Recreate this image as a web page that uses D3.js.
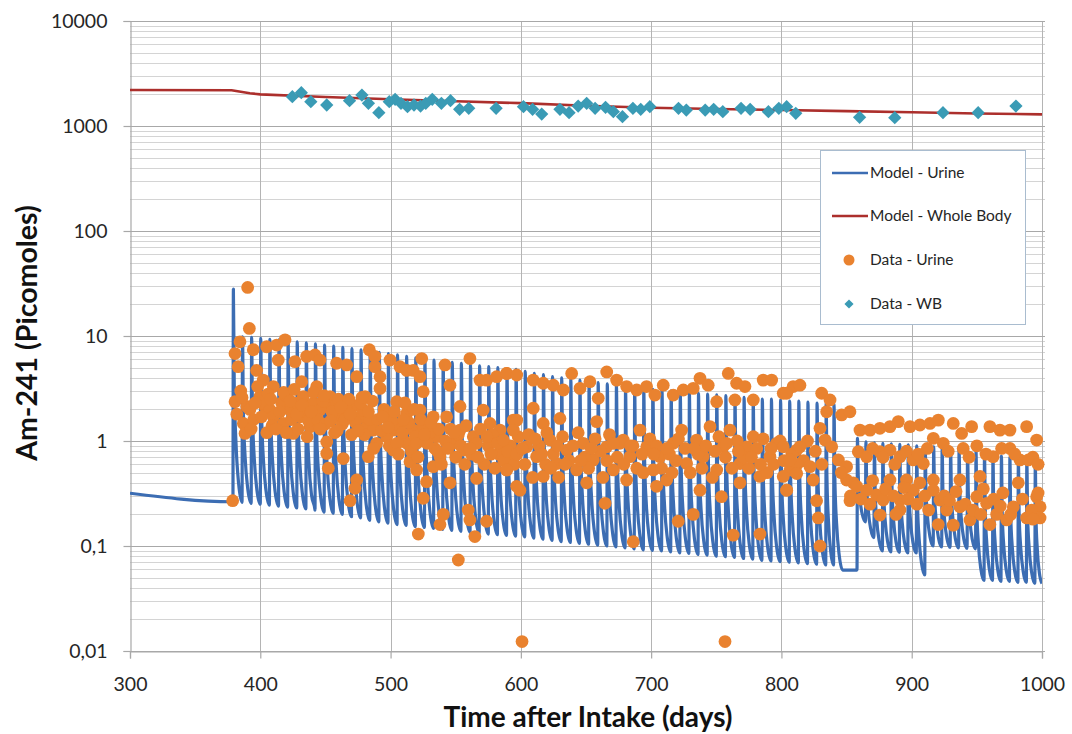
<!DOCTYPE html>
<html>
<head>
<meta charset="utf-8">
<script src="https://cdn.jsdelivr.net/npm/d3@7"></script>
<style>
  html, body { margin: 0; padding: 0; background: #ffffff; }
  svg { display: block; font-family: Lato, "Open Sans", sans-serif; }
</style>
</head>
<body>
<svg id="chart" width="1072" height="734"></svg>
<script>
// ---------------- DATA ----------------
const xTickValues = [300, 400, 500, 600, 700, 800, 900, 1000];
const yTickValues = [0.01, 0.1, 1, 10, 100, 1000, 10000];
const yTickLabels = ["0,01", "0,1", "1", "10", "100", "1000", "10000"];

const xTitle = "Time after Intake (days)";
const yTitle = "Am-241 (Picomoles)";
const legendLabels = ["Model - Urine", "Model - Whole Body", "Data - Urine", "Data - WB"];

// Model - Whole Body
const wbModelDays = [300, 378, 392, 400, 450, 500, 550, 600, 650, 700, 750, 800, 850, 900, 950, 1000];
const wbModelValues = [2200, 2190, 2050, 2000, 1890, 1800, 1720, 1650, 1560, 1490, 1450, 1420, 1385, 1350, 1315, 1290];

// Data - WB
const wbDataDays = [424.6, 431.5, 438.8, 451, 468.5, 478, 483, 491, 499, 503.5, 508, 513, 518, 523, 527, 532, 539, 546, 553, 560,
  581, 602, 609, 616, 630, 637, 644, 650.5, 657, 665, 671, 678, 686, 692, 699, 721, 727, 741.5, 748, 755,
  769, 776, 790, 798, 804, 811, 860, 887, 924, 951, 980];
const wbDataValues = [1900, 2075, 1705, 1585, 1742, 1973, 1645, 1340, 1705, 1796, 1645, 1527, 1585, 1550, 1645, 1796, 1645, 1742, 1442, 1473,
  1473, 1527, 1442, 1300, 1442, 1340, 1550, 1645, 1473, 1506, 1370, 1227, 1473, 1442, 1527, 1473, 1420, 1420, 1442, 1370,
  1473, 1442, 1370, 1473, 1527, 1322, 1210, 1200, 1340, 1340, 1550];

// Model - Urine : baseline before first treatment, then per-cycle start day, peak and trough
const urineBaselineDays = [300, 378.6];
const urineBaselineValues = [0.318, 0.264];
const urineCycleDays = [379, 386, 393, 400, 407, 414, 421, 428, 435, 442, 449, 456, 463, 470, 477, 484, 491, 498, 505, 512,
  519, 526, 533, 540, 547, 554, 561, 568, 575, 582, 589, 596, 603, 610, 617, 624, 631, 638, 645, 652,
  659, 666, 673, 680, 687, 694, 701, 708, 715, 722, 729, 736, 743, 750, 757, 764, 771, 778, 785, 792,
  799, 806, 813, 820, 827, 834, 840,
  858, 864.5, 871, 877.5, 884, 890.5, 897, 903.5, 910, 916.5, 923, 929.5, 936, 942.5, 949, 955.5, 962, 968.5, 975, 981.5, 988, 994.5];
const urineCyclePeaks = [28, 9.8, 9.7, 9.5, 9.3, 9.2, 9.0, 8.8, 8.6, 8.4, 8.2, 8.0, 7.8, 7.6, 7.4, 7.2, 7.0, 6.8, 6.6, 6.4,
  6.2, 6.1, 5.9, 5.8, 5.6, 5.5, 5.3, 5.2, 5.1, 5.0, 4.9, 4.8, 4.6, 4.4, 4.3, 4.1, 4.0, 3.9, 3.8, 3.7,
  3.6, 3.5, 3.4, 3.3, 3.2, 3.15, 3.1, 3.05, 3.0, 2.95, 2.9, 2.85, 2.8, 2.75, 2.7, 2.65, 2.6, 2.55, 2.5, 2.5,
  2.45, 2.4, 2.4, 2.35, 2.3, 2.3, 2.25,
  1.06, 0.98, 0.96, 0.95, 0.94, 0.93, 0.92, 0.9, 0.9, 0.88, 0.87, 0.86, 0.85, 0.84, 0.82, 0.78, 0.75, 0.72, 0.7, 0.68, 0.66, 0.64];
const urineCycleTroughs = [0.26, 0.255, 0.25, 0.245, 0.24, 0.235, 0.23, 0.225, 0.22, 0.21, 0.205, 0.2, 0.19, 0.185, 0.175, 0.17, 0.165, 0.16, 0.157, 0.153,
  0.15, 0.147, 0.144, 0.141, 0.138, 0.135, 0.132, 0.13, 0.128, 0.126, 0.124, 0.122, 0.119, 0.116, 0.113, 0.11, 0.108, 0.106, 0.104, 0.102,
  0.1, 0.098, 0.096, 0.094, 0.092, 0.091, 0.09, 0.088, 0.086, 0.085, 0.083, 0.082, 0.08, 0.079, 0.078, 0.076, 0.075, 0.073, 0.072, 0.071,
  0.07, 0.069, 0.068, 0.067, 0.066, 0.066, 0.059,
  0.17, 0.12, 0.09, 0.088, 0.087, 0.086, 0.086, 0.053, 0.1, 0.098, 0.097, 0.096, 0.095, 0.094, 0.047, 0.047, 0.046, 0.046, 0.045, 0.045, 0.044, 0.044];

// Data - Urine
const urineDataDays = [
  378.8, 390.3, 391.6, 384.4, 380.6, 383, 380.6, 389.6, 387, 388.3, 394.6, 397.2, 402.3, 399.8, 403.6, 404.9, 412.6, 419, 413.8, 410,
  416.4, 417.7, 425.3, 426.6, 431.8, 435.6, 442, 445.8, 443.3, 436.8, 438.2, 430.5, 451, 451, 451, 452.2, 458.6, 466.3, 474, 463.7,
  457.3, 471.4, 474, 472.7, 468.9, 480.4, 481.7, 482.9, 483.7, 488, 488, 491.9, 491.9, 497, 499.6, 504.7, 502.1, 507.2, 512.4, 517.4,
  523.9, 522.6, 525.1, 512.4, 522.6, 517.4, 509.7, 514.9, 520, 527.6, 525.1, 521.3, 532.8, 537.9, 541.8, 545.6, 537.9, 540.5, 545.6, 552,
  559.6, 560.9, 564.7, 573.7, 566, 553.3, 560.9, 553.3, 568.6, 573.7, 581.4, 589, 571.1, 576.3, 586.5, 591.7, 594.2, 596.8,
  402.3, 407.5, 410, 420.3, 422.8, 427.9, 433, 440.7, 445.8, 453.5, 458.6, 461.2, 466.3, 476.5, 479, 486.7, 489.3, 497, 502.1, 507.2,
  512.4, 525.1, 532.8, 535.4, 543, 548.1, 555.8, 563.5, 584, 589,
  385, 392, 395, 398, 406, 409, 415, 418, 424, 426, 429, 434, 437, 441, 444, 448, 450, 455, 457, 460,
  463, 468, 470, 473, 477, 480, 484, 486, 490, 493, 495, 499, 501, 505, 509, 511, 514, 516, 519, 521,
  523, 528, 530, 534, 537, 539, 542, 546, 550, 552, 557, 558, 562, 566, 569, 572, 575, 578, 580, 583,
  587, 592, 595, 598,
  382, 386, 393, 396, 401, 405, 408, 412, 420, 423, 428, 432, 436, 439, 446, 449, 454, 459, 462, 465,
  469, 475, 478, 483, 487, 494, 498, 503, 506, 510, 518, 520, 526, 531, 536, 544, 549, 554, 561, 567,
  574, 577, 582, 590, 597,
  589.1, 596.8, 609.5, 617.2, 624.9, 632.6, 639, 645.4, 653, 659.4, 665.9, 673.5, 681.2, 688.9, 696.5, 702.9, 709.3, 717, 724.7, 732.3,
  737.5, 743.8, 750.3, 759.2, 765.6, 772, 764.3, 778.4, 786, 792.5, 801.4, 809, 609.5, 596.8, 617.2, 630, 658.2, 599.3, 664.6, 686.3,
  720.8, 732.3, 754, 763, 783.5, 804,
  586.5, 594.2, 604.5, 612.1, 622.4, 627.5, 635.2, 642.8, 647.9, 655.6, 665.9, 671, 678.6, 683.8, 691.4, 696.6, 701.6, 706.8, 711.9, 717,
  723.4, 727.2, 734.9, 740, 745.2, 750.3, 755.3, 760.5, 768.2, 773.3, 778.4, 783.5, 791.2, 796.3, 806.6, 811.7, 589.1, 617.2, 650.5, 681.2,
  704.2, 737.5, 768.2, 801.4, 600.9, 756.7,
  603, 606, 609, 614, 619, 620, 625, 629, 632, 637, 640, 644, 649, 652, 657, 661, 663, 668, 674, 676,
  686, 689, 693, 699, 704, 708, 714, 719, 721, 726, 730, 736, 742, 747, 752, 757, 762, 766, 771, 775,
  781, 786, 789, 794, 799, 808, 817, 820, 826, 831,
  601, 611, 616, 623, 628, 634, 646, 654, 666, 671, 679, 684, 694, 702, 712, 716, 733, 739, 749, 758,
  767, 777, 784, 792, 802, 812,
  804, 814.2, 830.9, 837.3, 834.7, 846.2, 852.6, 829.6, 833.5, 838.6, 843.7, 850, 855.1, 852.6, 827, 828.3, 829.6, 860.3, 868, 875.6,
  883.3, 889.7, 898.7, 906.3, 914, 920.4, 931.9, 938.3, 946, 960, 967.7, 975.4, 988.2, 995.9, 975.4, 983.1, 989.5, 981.8, 952.4, 924.2,
  916.6, 939.5, 962.5, 859, 865.4, 875.6, 883.3, 891, 901.2, 908.9, 850, 857.7, 865.4, 873, 878.1, 875.6, 891, 891, 901.2, 906.3,
  916.6, 916.6, 921.7, 920.4, 931.9, 926.8, 937, 944.7, 949.9, 957.5, 965.2, 972.9, 978, 988.2, 995.9, 998.5, 998.5, 997, 960, 937,
  896, 883.3, 801.4, 806.6, 811.7, 804, 814.2, 821.9, 824.4,
  846, 853, 861, 868, 870, 880, 886, 888, 894, 897, 904, 910, 913, 925, 929, 934, 941, 947, 953, 955,
  963, 968, 970, 976, 985, 992, 993, 870, 878, 887, 896, 905, 912, 928, 944, 950, 957, 969, 979, 993, 997];
const urineDataValues = [
  0.27, 29, 11.8, 8.8, 6.8, 5.1, 2.37, 2.13, 1.47, 1.18, 7.4, 4.7, 3.8, 2.65, 2.13, 7.9, 8.2, 9.2, 5.9, 3.3,
  2.3, 1.47, 1.18, 5.7, 3.67, 6.4, 6.6, 5.9, 3.3, 2.13, 1.37, 1.7, 2.13, 0.98, 0.76, 0.55, 5.5, 5.3, 4.1, 0.68,
  1.83, 2.13, 0.425, 0.355, 0.27, 2.65, 1.37, 0.71, 7.4, 6.4, 5.1, 4.1, 3.17, 1.7, 5.9, 2.37, 1.27, 5.1, 4.7, 4.7,
  6.1, 4.1, 2.95, 1.83, 1.97, 1.27, 1.02, 0.635, 0.53, 0.41, 0.285, 0.13, 0.57, 0.71, 5.3, 3.4, 0.16, 0.2, 0.4, 0.0736,
  0.22, 0.177, 0.123, 0.172, 0.44, 2.13, 6.1, 1.27, 3.8, 3.8, 4.1, 4.4, 1.97, 1.47, 0.95, 0.71, 1.58, 0.37,
  2.29, 1.97, 1.7, 2.65, 1.97, 2.29, 2.65, 2.29, 1.97, 2.65, 2.29, 1.7, 1.97, 1.7, 1.97, 1.27, 0.95, 1.1, 0.82, 1.37,
  0.95, 1.37, 1.7, 1.1, 1.7, 0.95, 0.82, 1.1, 1.27, 0.53,
  3.0, 2.0, 1.6, 3.3, 2.8, 1.4, 1.9, 2.9, 1.6, 3.1, 1.3, 1.9, 1.55, 2.9, 1.6, 2.4, 1.45, 1.9, 1.2, 2.5,
  1.45, 2.5, 1.15, 1.5, 2.3, 1.15, 1.6, 2.4, 1.6, 1.25, 2.0, 0.9, 1.55, 0.95, 1.2, 2.3, 1.5, 0.8, 1.1, 0.7,
  1.6, 0.95, 1.2, 0.85, 1.3, 0.6, 1.0, 1.3, 0.7, 1.15, 0.6, 1.4, 0.75, 0.95, 1.3, 0.6, 0.9, 1.15, 0.55, 0.75,
  0.65, 0.9, 0.6, 1.1,
  1.8, 2.6, 1.3, 2.3, 1.7, 1.2, 2.5, 1.3, 1.2, 2.4, 1.8, 2.2, 1.1, 1.9, 1.3, 2.7, 1.55, 1.25, 2.1, 1.6,
  1.8, 1.25, 2.6, 1.9, 0.85, 1.7, 1.35, 1.9, 0.75, 1.6, 2.0, 0.95, 1.15, 1.5, 0.8, 0.85, 1.2, 0.9, 0.85, 0.7,
  1.1, 0.75, 0.95, 0.8, 0.75,
  4.4, 4.25, 3.8, 3.55, 3.4, 3.06, 4.4, 3.17, 3.67, 2.55, 4.55, 3.8, 3.3, 3.06, 3.3, 2.74, 3.4, 2.74, 3.06, 3.17,
  3.95, 3.4, 2.37, 4.4, 3.55, 3.3, 2.46, 2.46, 3.8, 3.8, 2.85, 3.3, 2.05, 1.58, 1.47, 1.64, 1.53, 0.34, 0.255, 0.11,
  0.172, 0.2, 0.295, 0.127, 0.13, 0.34,
  1.02, 1.27, 0.88, 0.71, 1.02, 0.61, 0.82, 0.53, 0.95, 0.66, 0.88, 0.53, 1.02, 0.71, 1.27, 0.88, 0.53, 0.71, 0.425, 0.95,
  1.27, 0.61, 1.02, 0.71, 1.37, 0.53, 0.88, 1.27, 0.61, 0.88, 1.1, 0.46, 0.71, 0.95, 0.53, 0.82, 0.53, 0.46, 0.4, 0.425,
  0.37, 0.34, 0.4, 0.46, 0.0123, 0.0123,
  0.6, 1.15, 0.45, 0.9, 0.6, 1.2, 0.75, 0.45, 1.1, 0.65, 0.9, 1.2, 0.7, 0.55, 1.05, 0.8, 0.45, 1.15, 0.7, 0.95,
  0.9, 0.55, 0.75, 1.05, 0.9, 0.55, 0.75, 0.65, 1.05, 0.85, 0.5, 0.75, 0.9, 0.45, 1.1, 0.7, 0.55, 1.0, 0.7, 0.55,
  0.85, 1.05, 0.5, 0.6, 1.0, 0.75, 0.65, 1.0, 0.8, 0.6,
  0.85, 1.05, 0.75, 0.55, 0.9, 0.6, 0.65, 0.85, 0.65, 0.95, 0.6, 0.9, 0.5, 0.75, 0.85, 0.5, 0.85, 0.55, 0.8, 0.95,
  0.8, 0.7, 0.6, 0.85, 0.65, 0.6,
  2.85, 3.4, 2.85, 2.46, 1.9, 1.77, 1.9, 1.32, 1.02, 0.88, 0.66, 0.57, 0.4, 0.27, 0.27, 0.185, 0.1, 1.27, 1.27, 1.32,
  1.37, 1.53, 1.37, 1.42, 1.47, 1.58, 1.47, 1.18, 1.37, 1.37, 1.27, 1.27, 1.37, 1.02, 0.85, 0.66, 0.66, 0.4, 0.46, 0.95,
  1.06, 0.85, 0.71, 0.79, 0.71, 0.79, 0.82, 0.71, 0.66, 0.61, 0.425, 0.37, 0.34, 0.306, 0.274, 0.197, 0.274, 0.22, 0.34, 0.4,
  0.425, 0.34, 0.274, 0.16, 0.158, 0.22, 0.236, 0.177, 0.295, 0.255, 0.2, 0.177, 0.236, 0.185, 0.295, 0.236, 0.185, 0.32, 0.16, 0.425,
  0.425, 0.425, 0.88, 0.66, 0.49, 0.34, 0.88, 0.57, 0.425,
  0.5, 0.3, 0.28, 0.25, 0.42, 0.35, 0.3, 0.2, 0.36, 0.28, 0.25, 0.3, 0.22, 0.3, 0.27, 0.33, 0.25, 0.22, 0.2, 0.35,
  0.28, 0.24, 0.32, 0.2, 0.28, 0.22, 0.18, 0.85, 0.7, 0.6, 0.8, 0.75, 0.85, 0.8, 0.7, 0.9, 0.75, 0.85, 0.75, 0.7, 0.6];

// ---------------- LAYOUT / STYLE ----------------
const W = 1072, H = 734;
const plot = { left: 130, right: 1042, top: 21, bottom: 651 };
const colors = {
  urineModel: "#3c6db3",
  wbModel: "#ac2f2c",
  urineData: "#e9822f",
  wbData: "#3a9bb5",
  gridMajor: "#a8a8a8",
  gridMinor: "#d4d4d4",
  gridV: "#b4b4b4",
  text: "#262626"
};
// shape of one excretion tooth (fraction of cycle time, fraction of log drop from peak to trough)
const riseTime = 0.35;
const toothLength = 7;
const decayProfile = [[0.1, 0.45], [0.3, 0.72], [0.6, 0.91], [1.0, 1.0]];

const svg = d3.select("#chart");
svg.append("rect").attr("width", W).attr("height", H).attr("fill", "#fff");

const x = d3.scaleLinear().domain([300, 1000]).range([plot.left, plot.right]);
const y = d3.scaleLog().domain([0.01, 10000]).range([plot.bottom, plot.top]);

// gridlines
const grid = svg.append("g");
const minorTicks = y.ticks().filter(v => !yTickValues.some(t => Math.abs(Math.log10(v) - Math.log10(t)) < 1e-9));
grid.selectAll("line.minor").data(minorTicks).join("line")
  .attr("x1", plot.left).attr("x2", plot.right + 3)
  .attr("y1", d => Math.round(y(d)) + 0.5).attr("y2", d => Math.round(y(d)) + 0.5)
  .attr("stroke", colors.gridMinor).attr("stroke-width", 1);
grid.selectAll("line.vert").data(xTickValues.slice(1)).join("line")
  .attr("x1", d => Math.round(x(d)) + 0.5).attr("x2", d => Math.round(x(d)) + 0.5)
  .attr("y1", plot.top).attr("y2", plot.bottom)
  .attr("stroke", colors.gridV).attr("stroke-width", 1);
grid.selectAll("line.major").data(yTickValues).join("line")
  .attr("x1", plot.left).attr("x2", plot.right + 3)
  .attr("y1", d => Math.round(y(d)) + 0.5).attr("y2", d => Math.round(y(d)) + 0.5)
  .attr("stroke", colors.gridMajor).attr("stroke-width", 1.2);

// axes
const yAxis = svg.append("g").attr("transform", `translate(${plot.left + 0.5},0)`)
  .call(d3.axisLeft(y).tickValues(yTickValues).tickFormat((d, i) => yTickLabels[i]).tickSize(7).tickPadding(16));
const xAxis = svg.append("g").attr("transform", `translate(0,${plot.bottom + 0.5})`)
  .call(d3.axisBottom(x).tickValues(xTickValues).tickFormat(d3.format("d")).tickSize(7).tickPadding(19));
[yAxis, xAxis].forEach(a => {
  a.select(".domain").attr("stroke", colors.gridMajor).attr("stroke-width", 1.2);
  a.selectAll(".tick line").attr("stroke", colors.gridMajor).attr("stroke-width", 1.2);
  a.selectAll(".tick text").attr("fill", colors.text).style("font-size", "19.5px").style("font-family", "Lato, sans-serif");
});

// clip
svg.append("clipPath").attr("id", "clip").append("rect")
  .attr("x", plot.left).attr("y", plot.top).attr("width", plot.right - plot.left).attr("height", plot.bottom - plot.top);

// urine model curve
const urinePts = [];
urineBaselineDays.forEach((d, i) => urinePts.push([d, urineBaselineValues[i]]));
let cur = urineBaselineValues[urineBaselineValues.length - 1];
urineCycleDays.forEach((d, i) => {
  const P = urineCyclePeaks[i], T = urineCycleTroughs[i];
  const next = i + 1 < urineCycleDays.length ? urineCycleDays[i + 1] : 1000;
  const end = Math.min(d + toothLength, next);
  const span = end - d - riseTime;
  urinePts.push([d, cur]);
  urinePts.push([d + riseTime, P]);
  decayProfile.forEach(([ft, fl]) => {
    urinePts.push([d + riseTime + ft * span, Math.exp(Math.log(P) + fl * (Math.log(T) - Math.log(P)))]);
  });
  cur = T;
  if (end < next) urinePts.push([next, T]);
});
const lineGen = d3.line().x(d => x(d[0])).y(d => y(d[1])).curve(d3.curveMonotoneX);
svg.append("path").datum(urinePts)
  .attr("clip-path", "url(#clip)")
  .attr("d", lineGen).attr("fill", "none")
  .attr("stroke", colors.urineModel).attr("stroke-width", 3.2).attr("stroke-linejoin", "round");

// whole-body model
svg.append("path").datum(wbModelDays.map((d, i) => [d, wbModelValues[i]]))
  .attr("clip-path", "url(#clip)")
  .attr("d", d3.line().x(d => x(d[0])).y(d => y(d[1])))
  .attr("fill", "none").attr("stroke", colors.wbModel).attr("stroke-width", 2.6);

// urine data
svg.append("g").selectAll("circle").data(urineDataDays.map((d, i) => [d, urineDataValues[i]])).join("circle")
  .attr("cx", d => x(d[0])).attr("cy", d => y(d[1])).attr("r", 6.4)
  .attr("fill", colors.urineData);

// WB data
const diamond = d3.symbol().type(d3.symbolSquare).size(88);
svg.append("g").selectAll("path").data(wbDataDays.map((d, i) => [d, wbDataValues[i]])).join("path")
  .attr("d", diamond)
  .attr("transform", d => `translate(${x(d[0])},${y(d[1])}) rotate(45)`)
  .attr("fill", colors.wbData);

// legend
const lg = svg.append("g");
lg.append("rect").attr("x", 820.5).attr("y", 150.5).attr("width", 205).attr("height", 174)
  .attr("fill", "#fff").attr("stroke", "#a9bccf").attr("stroke-width", 1);
const legY = [173, 216, 260, 304];
lg.append("line").attr("x1", 832).attr("x2", 868).attr("y1", legY[0]).attr("y2", legY[0])
  .attr("stroke", colors.urineModel).attr("stroke-width", 2.6);
lg.append("line").attr("x1", 832).attr("x2", 868).attr("y1", legY[1]).attr("y2", legY[1])
  .attr("stroke", colors.wbModel).attr("stroke-width", 2.6);
lg.append("circle").attr("cx", 849).attr("cy", legY[2]).attr("r", 5.5).attr("fill", colors.urineData);
lg.append("path").attr("d", d3.symbol().type(d3.symbolSquare).size(42))
  .attr("transform", `translate(849,${legY[3]}) rotate(45)`).attr("fill", colors.wbData);
lg.selectAll("text").data(legendLabels).join("text")
  .attr("x", 870).attr("y", (d, i) => legY[i] + 5)
  .attr("fill", colors.text).style("font-size", "15.5px").text(d => d);

// axis titles
svg.append("text").attr("x", 588).attr("y", 727).attr("text-anchor", "middle")
  .attr("fill", "#111").style("font-size", "28px").style("font-weight", "bold").text(xTitle);
svg.append("text").attr("transform", "translate(37,333) rotate(-90)").attr("text-anchor", "middle")
  .attr("fill", "#111").style("font-size", "28.5px").style("font-weight", "bold").text(yTitle);
</script>
</body>
</html>
